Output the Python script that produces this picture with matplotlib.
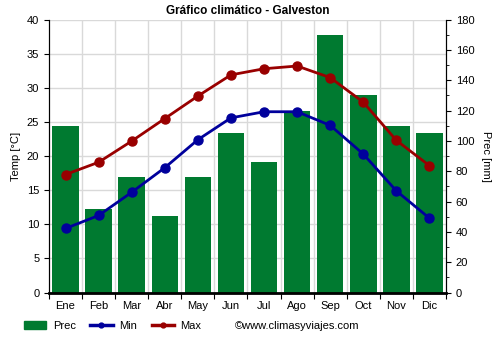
import numpy as np
import matplotlib
matplotlib.use('Agg')
import matplotlib.pyplot as plt
from matplotlib.ticker import MultipleLocator
from matplotlib.lines import Line2D
from matplotlib.patches import Patch

months = ['Ene', 'Feb', 'Mar', 'Abr', 'May', 'Jun', 'Jul', 'Ago', 'Sep', 'Oct', 'Nov', 'Dic']
prec = [110, 55, 76, 50.5, 76, 105, 86, 120, 170, 130, 110, 105]
t_min = [9.4, 11.3, 14.7, 18.3, 22.4, 25.6, 26.5, 26.5, 24.5, 20.3, 14.9, 10.9]
t_max = [17.3, 19.1, 22.2, 25.5, 28.8, 31.9, 32.8, 33.2, 31.5, 27.9, 22.3, 18.6]

green = '#007a30'
blue = '#00009c'
red = '#990000'

plt.rcParams['font.family'] = ['Liberation Sans', 'DejaVu Sans']

fig = plt.figure(figsize=(5, 3.5), dpi=100)
ax = fig.add_axes([0.098, 0.164, 0.794, 0.78])
ax2 = ax.twinx()

x = np.arange(len(months))
ax2.bar(x, prec, width=0.8, color=green, zorder=2)
ax2.set_ylim(0, 180)
ax2.yaxis.set_major_locator(MultipleLocator(20))
ax2.yaxis.set_minor_locator(MultipleLocator(10))
ax2.set_ylabel('Prec [mm]', fontsize=8, rotation=270, labelpad=12)

ax.set_zorder(ax2.get_zorder() + 1)
ax.patch.set_visible(False)
ax.plot(x, t_min, color=blue, lw=2, marker='o', ms=6.5)
ax.plot(x, t_max, color=red, lw=2, marker='o', ms=6.5)
ax.set_ylim(0, 40)
ax.set_xlim(-0.5, 11.5)
ax.yaxis.set_major_locator(MultipleLocator(5))
ax.set_xticks(np.arange(-0.5, 12, 1), minor=False)
ax.set_xticklabels([])
ax.set_xticks(x, minor=True)
ax.set_xticklabels(months, minor=True)
ax.tick_params(axis='x', which='minor', length=0, labelsize=8, pad=6)
ax.tick_params(axis='x', which='major', length=4)
ax.tick_params(axis='y', labelsize=8)
ax2.tick_params(axis='y', which='both', labelsize=8)
ax.set_ylabel('Temp [°C]', fontsize=8)

# background grid drawn on bar axes so it sits behind bars
ax2.set_xlim(-0.5, 11.5)
for v in np.arange(0.5, 11, 1):
    ax2.axvline(v, color='#d9d9d9', lw=1, zorder=0)
for t in range(5, 41, 5):
    ax2.axhline(t * 4.5, color='#d9d9d9', lw=1, zorder=0)

for a in (ax, ax2):
    a.spines['top'].set_visible(False)
ax.spines['bottom'].set_linewidth(2)

ax.set_title('Gráfico climático - Galveston', fontsize=8.5, fontweight='bold', pad=4)

handles = [Patch(color=green),
           Line2D([], [], color=blue, lw=2.5, marker='o', ms=3.5),
           Line2D([], [], color=red, lw=2.5, marker='o', ms=3.5)]
fig.legend(handles, ['Prec', 'Min', 'Max'], loc='center left', bbox_to_anchor=(0.048, 0.069),
           ncol=3, frameon=False, fontsize=8, handlelength=2.0, handletextpad=0.6,
           columnspacing=1.3, handleheight=0.8, borderpad=0, borderaxespad=0)
fig.text(0.47, 0.069, '©www.climasyviajes.com', ha='left', va='center', fontsize=8)

fig.savefig('out.png', dpi=100)
